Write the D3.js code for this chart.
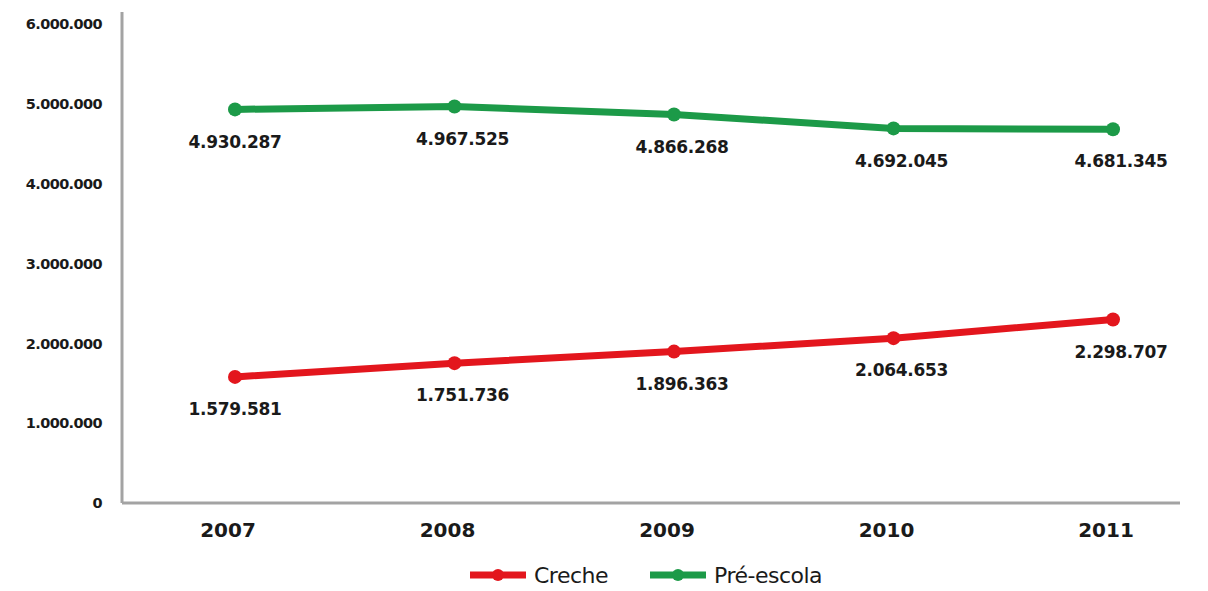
<!DOCTYPE html>
<html>
<head>
<meta charset="utf-8">
<style>
  body { margin: 0; background: #fff; }
  text { font-family: "DejaVu Sans", sans-serif; fill: #1a1a1a; }
</style>
</head>
<body>
<div id="chart"></div>
<script src="https://d3js.org/d3.v7.min.js"></script>
<script>
  // data
  const years = ["2007", "2008", "2009", "2010", "2011"];
  const creche = [1579581, 1751736, 1896363, 2064653, 2298707];
  const preEscola = [4930287, 4967525, 4866268, 4692045, 4681345];
  const yTicks = [0, 1000000, 2000000, 3000000, 4000000, 5000000, 6000000];
  const seriesNames = ["Creche", "Pré-escola"];
  const seriesColors = ["#e3161d", "#1c9a48"];

  const W = 1208, H = 591;
  const svg = d3.select("#chart").append("svg")
    .attr("width", W).attr("height", H);

  const x = d3.scalePoint().domain(years).range([235, 1113]);
  const y = d3.scaleLinear().domain([0, 6000000]).range([503, 24]);

  // pt-BR style number format: 1.579.581
  const fmt = d3.formatLocale({ decimal: ",", thousands: ".", grouping: [3], currency: ["R$", ""] }).format(",d");

  // axes lines
  svg.append("line")
    .attr("x1", 122).attr("x2", 122).attr("y1", 12).attr("y2", y(0))
    .attr("stroke", "#a3a3a3").attr("stroke-width", 3);
  svg.append("line")
    .attr("x1", 122).attr("x2", 1180).attr("y1", y(0)).attr("y2", y(0))
    .attr("stroke", "#a3a3a3").attr("stroke-width", 3);

  // y tick labels
  svg.append("g").selectAll("text")
    .data(yTicks)
    .enter().append("text")
    .attr("x", 102)
    .attr("y", d => y(d))
    .attr("dy", "0.36em")
    .attr("text-anchor", "end")
    .style("font-size", "14.5px")
    .style("font-weight", "bold")
    .style("letter-spacing", "-0.6px")
    .text(d => fmt(d));

  // x tick labels
  svg.append("g").selectAll("text")
    .data(years)
    .enter().append("text")
    .attr("x", d => x(d) - 7)
    .attr("y", 530)
    .attr("dy", "0.36em")
    .attr("text-anchor", "middle")
    .style("font-size", "20px")
    .style("font-weight", "bold")
    .text(d => d);

  const series = [creche, preEscola];
  const line = d3.line()
    .x((d, i) => x(years[i]))
    .y(d => y(d));

  series.forEach((vals, s) => {
    const g = svg.append("g");
    g.append("path")
      .datum(vals)
      .attr("d", line)
      .attr("fill", "none")
      .attr("stroke", seriesColors[s])
      .attr("stroke-width", 7)
      .attr("stroke-linejoin", "round");
    g.selectAll("circle")
      .data(vals)
      .enter().append("circle")
      .attr("cx", (d, i) => x(years[i]))
      .attr("cy", d => y(d))
      .attr("r", 7)
      .attr("fill", seriesColors[s]);
    g.selectAll("text")
      .data(vals)
      .enter().append("text")
      .attr("x", (d, i) => x(years[i]) + (i === 0 ? 0 : 8))
      .attr("y", d => y(d) + 32)
      .attr("dy", "0.36em")
      .attr("text-anchor", "middle")
      .style("font-size", "17px")
      .style("font-weight", "bold")
      .style("letter-spacing", "-0.3px")
      .text(d => fmt(d));
  });

  // legend
  const legendX = [470, 650];
  const legend = svg.append("g").selectAll("g")
    .data(seriesNames)
    .enter().append("g")
    .attr("transform", (d, i) => "translate(" + legendX[i] + ",575)");
  legend.append("line")
    .attr("x1", 0).attr("x2", 56)
    .attr("stroke", (d, i) => seriesColors[i])
    .attr("stroke-width", 7);
  legend.append("circle")
    .attr("cx", 28).attr("r", 6)
    .attr("fill", (d, i) => seriesColors[i]);
  legend.append("text")
    .attr("x", 64)
    .attr("dy", "0.36em")
    .style("font-size", "22px")
    .style("letter-spacing", "-0.5px")
    .text(d => d);
</script>
</body>
</html>
